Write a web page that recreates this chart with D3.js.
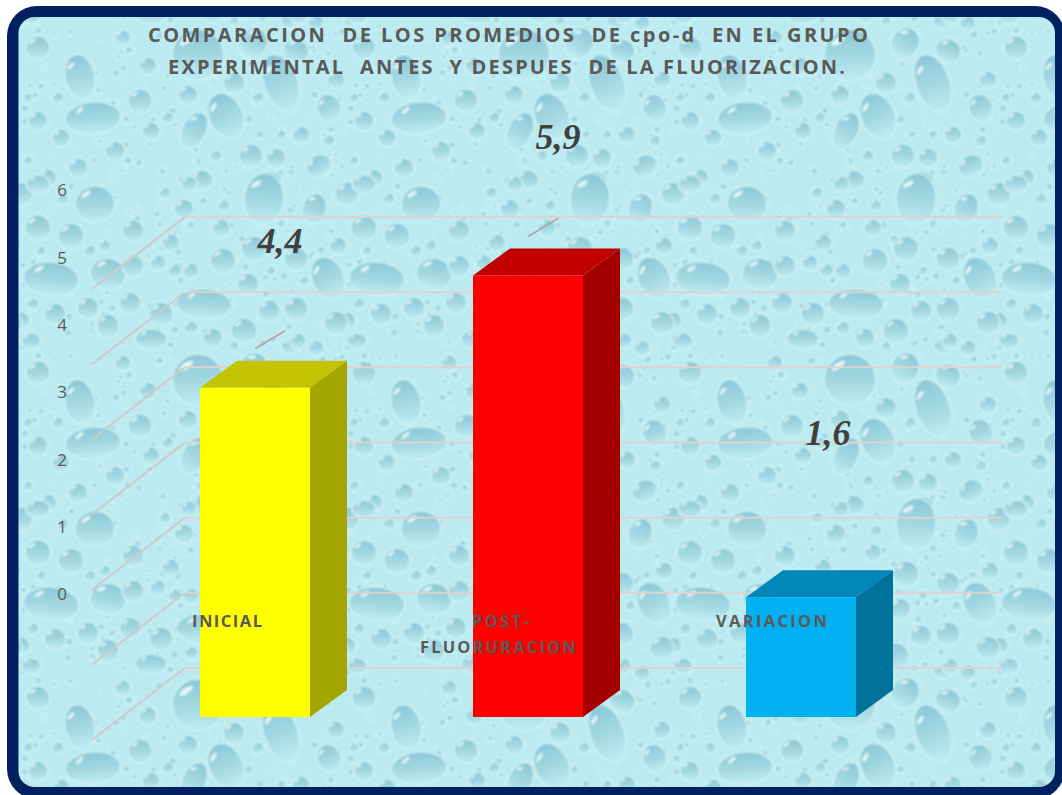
<!DOCTYPE html>
<html lang="es">
<head>
<meta charset="utf-8">
<title>Promedios de cpo-d</title>
<script src="https://cdn.jsdelivr.net/npm/d3@7"></script>
<style>
  html, body { margin: 0; padding: 0; background: #fff; overflow: hidden; }
  svg { display: block; }
  .title { font: 700 20px "Open Sans", sans-serif; fill: #595959; }
  .cat { font: 700 16.5px "Open Sans", sans-serif; fill: #595959; }
  .tick { font: 400 17px "Open Sans", sans-serif; fill: #595959; }
  .value { font: italic 700 36px "Liberation Serif", serif; fill: #404040; }
</style>
</head>
<body>
<svg id="chart" width="1062" height="795"></svg>
<script>
//data
const categories = ['INICIAL', 'POST-FLUORURACION', 'VARIACION'];
const values = [4.4, 5.9, 1.6];
const valueLabels = ['4,4', '5,9', '1,6'];
const barColors = ['#ffff00', '#ff0000', '#00b0f0'];
const yTicks = [0, 1, 2, 3, 4, 5, 6];
const titleLines = [
  'COMPARACION  DE LOS PROMEDIOS  DE cpo-d  EN EL GRUPO',
  'EXPERIMENTAL  ANTES  Y DESPUES  DE LA FLUORIZACION.'
];
// category text, one entry per written line
const catLines = [['INICIAL'], ['POST-', 'FLUORURACION'], ['VARIACION']];

// water drops of the background tile: x, y, rx, ry, rotation
const drops = [
  [75,100,28,16,-5],[122,83,12,12,0],[20,103,10,10,0],[43,120,9,9,0],[97,133,10,10,0],[60,150,10,10,0],
  [133,113,9,9,0],[150,100,6,6,0],[10,143,5,5,0],[30,160,9,9,0],[110,143,4,4,0],[40,80,6,6,0],[10,80,5,5,0],
  [62,59,15,23,-12],[105,20,8,8,0],[20,30,12,12,0],[130,48,9,9,0],
  [180,37,26,26,0],[235,25,14,16,30],[278,33,13,12,20],[263,65,17,30,-20],[216,65,11,11,0],[208,98,17,24,-25],
  [176,113,12,20,25],[311,90,12,14,-20],[318,62,9,9,0],[240,80,6,6,0],[283,117,9,9,0],[263,117,5,5,0],
  [233,138,12,12,0],[258,140,10,10,0],[301,148,13,11,-25],[311,123,6,6,0],[298,5,8,8,0],[273,3,10,8,0],
  [198,138,6,6,0],[183,162,12,10,0],[250,162,14,9,0],[170,77,10,10,0],[216,3,5,5,0],
  [77,186,20,18,0],[53,218,13,13,0],[20,210,13,13,0],[115,213,11,11,0],[3,176,12,12,0],[20,166,12,9,0],
  [45,181,6,6,0],[147,175,6,6,0],[153,225,9,9,0],[33,261,28,17,5],[90,256,18,16,10],[115,248,11,11,0],
  [140,245,8,8,0],[157,253,7,7,0],[72,233,6,6,0],[87,228,6,6,0],[23,233,5,5,0],[70,290,11,11,0],
  [37,296,11,11,0],[112,285,11,11,0],[143,296,12,12,0],[90,308,11,12,0],[133,321,16,10,0],[15,286,6,6,0],
  [3,303,9,9,0],[13,323,10,8,0],[160,286,6,6,0],
  [246,181,20,26,5],[296,191,12,16,20],[236,231,13,13,0],[205,243,13,13,0],[278,241,12,12,0],[320,228,9,9,0],
  [203,210,9,9,0],[310,260,16,22,-25],[230,266,11,11,0],[173,253,8,8,0],[186,286,28,15,3],[251,293,11,11,0],
  [278,291,12,12,0],[226,313,13,13,0],[318,305,12,12,0],[195,320,10,10,0],[173,310,7,7,0],[280,323,8,8,0],
  [253,253,5,5,0],[286,263,5,5,0],[171,166,8,8,0],[166,191,10,10,0],[206,188,6,6,0]
];

//layout
const W = 1062, H = 795;
const TILE_W = 326, TILE_H = 325;
const DEPTH_X = 37, DEPTH_Y = -27;        // bar extrusion
const WALL_X = -93, WALL_Y = 72;          // side wall of the plot box
const GRID_RIGHT = 1002, GRID_LEFT = 185;

const svg = d3.select('#chart');
const defs = svg.append('defs');

//background tile
const dropFill = defs.append('linearGradient')
  .attr('id', 'drop-fill').attr('x1', 0).attr('y1', 0).attr('x2', 0).attr('y2', 1);
dropFill.append('stop').attr('offset', '0%').attr('stop-color', '#8ac7d6');
dropFill.append('stop').attr('offset', '50%').attr('stop-color', '#a3d8e2');
dropFill.append('stop').attr('offset', '100%').attr('stop-color', '#bfecf1');

defs.append('filter').attr('id', 'soft')
  .append('feGaussianBlur').attr('stdDeviation', 0.8);

const tile = defs.append('pattern')
  .attr('id', 'water')
  .attr('patternUnits', 'userSpaceOnUse')
  .attr('x', 18).attr('y', 18)
  .attr('width', TILE_W).attr('height', TILE_H);

tile.append('rect')
  .attr('width', TILE_W).attr('height', TILE_H)
  .attr('fill', '#bbebf1');

const tileInner = tile.append('g').attr('filter', 'url(#soft)');

// small filler droplets between the large ones, fixed seed
const rnd = d3.randomLcg(0.37);
const filler = d3.range(300).map(() => {
  const r = 1.2 + rnd() * 3.2;
  return [rnd() * TILE_W, rnd() * TILE_H, r, r, 0];
});

// repeat drops that cross the tile edge so the pattern wraps
const wrapped = [];
[...filler, ...drops].forEach(d => {
  const reach = Math.max(d[2], d[3]) + 2;
  [-TILE_W, 0, TILE_W].forEach(ox => {
    [-TILE_H, 0, TILE_H].forEach(oy => {
      const x = d[0] + ox, y = d[1] + oy;
      if (x > -reach && x < TILE_W + reach && y > -reach && y < TILE_H + reach) {
        wrapped.push([x, y, d[2], d[3], d[4]]);
      }
    });
  });
});

const dropG = tileInner.selectAll('g.drop')
  .data(wrapped)
  .join('g')
  .attr('class', 'drop')
  .attr('transform', d => `translate(${d[0]},${d[1]}) rotate(${d[4]})`);

dropG.append('ellipse')
  .attr('rx', d => d[2]).attr('ry', d => d[3])
  .attr('fill', 'url(#drop-fill)')
  .attr('stroke', '#cff3f6')
  .attr('stroke-width', 1.5);

// highlights only on the bigger drops, small ones stay flat
dropG.filter(d => d[2] > 4).append('ellipse')
  .attr('cx', d => -d[2] * 0.45)
  .attr('cy', d => -d[3] * 0.55)
  .attr('rx', d => Math.min(d[2], d[3]) * 0.3)
  .attr('ry', d => Math.min(d[2], d[3]) * 0.11)
  .attr('transform', d => `rotate(-35 ${-d[2] * 0.45} ${-d[3] * 0.55})`)
  .attr('fill', '#e0f7f9');

//frame
svg.append('rect')
  .attr('x', 7).attr('y', 6)
  .attr('width', 1058).attr('height', 793)
  .attr('rx', 30)
  .attr('fill', '#002060');

svg.append('rect')
  .attr('x', 18.5).attr('y', 17)
  .attr('width', 1036.5).attr('height', 770)
  .attr('rx', 16)
  .attr('fill', 'url(#water)');

//scales
const x = d3.scaleBand()
  .domain(categories)
  .range([118.5, 937.5])
  .paddingInner(0.597)
  .paddingOuter(0.2985);

// snap bars to whole pixels so the faces stay crisp
const barX = c => Math.round(x(c));
const barW = Math.round(x.bandwidth());

const yFront = d3.scaleLinear().domain([0, 6]).range([717, 268]);
const yWall = d3.scaleLinear().domain([0, 6]).range([668, 217]);
const yTick = d3.scaleLinear().domain([0, 6]).range([594, 190]);

//grid
const grid = svg.append('g').attr('fill', 'none').attr('stroke-width', 2);

grid.selectAll('path.back')
  .data(yTicks)
  .join('path')
  .attr('class', 'back')
  .attr('stroke', '#dcd3d1')
  .attr('d', d => `M${GRID_LEFT},${yWall(d)}H${GRID_RIGHT}`);

grid.selectAll('path.side')
  .data(yTicks)
  .join('path')
  .attr('class', 'side')
  .attr('stroke', '#cbcaca')
  .attr('d', d => `M${GRID_LEFT},${yWall(d)}l${WALL_X},${WALL_Y}`);

//value axis, labels only
const yAxis = d3.axisLeft(yTick)
  .tickValues(yTicks)
  .tickFormat(d3.format('d'))
  .tickSize(0)
  .tickPadding(0);
const axisG = svg.append('g')
  .attr('transform', 'translate(67,0)')
  .call(yAxis);
axisG.select('.domain').remove();
axisG.selectAll('text')
  .attr('class', 'tick')
  .attr('fill', null)
  .attr('dy', '0.34em');

//bars
const bars = svg.selectAll('g.bar')
  .data(categories.map((c, i) => ({ cat: c, value: values[i], color: barColors[i] })))
  .join('g')
  .attr('class', 'bar');

bars.append('path')   // top face
  .attr('fill', d => d3.rgb(d.color).darker(0.75))
  .attr('d', d => {
    const left = barX(d.cat), top = yFront(d.value);
    return `M${left},${top}l${DEPTH_X},${DEPTH_Y}h${barW}l${-DEPTH_X},${-DEPTH_Y}Z`;
  });

bars.append('path')   // side face
  .attr('fill', d => d3.rgb(d.color).darker(1.22))
  .attr('d', d => {
    const right = barX(d.cat) + barW, top = yFront(d.value), base = yFront(0);
    return `M${right},${top}l${DEPTH_X},${DEPTH_Y}V${base + DEPTH_Y}L${right},${base}Z`;
  });

bars.append('rect')   // front face
  .attr('x', d => barX(d.cat))
  .attr('y', d => yFront(d.value))
  .attr('width', barW)
  .attr('height', d => yFront(0) - yFront(d.value))
  .attr('fill', d => d.color);

//leader lines for the moved labels
const leaderCats = categories.slice(0, 2);
svg.selectAll('path.leader')
  .data(leaderCats)
  .join('path')
  .attr('class', 'leader')
  .attr('fill', 'none')
  .attr('stroke', '#ada5a3')
  .attr('stroke-width', 1.5)
  .attr('d', (c, i) => `M${barX(c) + barW / 2},${yFront(values[i]) - 39}l30,-18`);

//value labels, placed by hand off the bars
const labelShift = [[25, -135], [30, -126], [27, -152]];
svg.selectAll('text.value')
  .data(valueLabels)
  .join('text')
  .attr('class', 'value')
  .attr('text-anchor', 'middle')
  .attr('x', (d, i) => barX(categories[i]) + barW / 2 + labelShift[i][0])
  .attr('y', (d, i) => yFront(values[i]) + labelShift[i][1])
  .text(d => d);

//category labels
const catWidths = [[70], [57, 156], [111]];
const catCenters = [227, 498, 771.5];
catLines.forEach((lines, i) => {
  lines.forEach((line, j) => {
    svg.append('text')
      .attr('class', 'cat')
      .attr('text-anchor', 'middle')
      .attr('x', catCenters[i] + (lines.length > 1 && j === 0 ? 2.5 : 0))
      .attr('y', 627 + j * 26)
      .attr('textLength', catWidths[i][j])
      .attr('lengthAdjust', 'spacing')
      .text(line);
  });
});

//title
const titleWidths = [720, 677];
svg.selectAll('text.title')
  .data(titleLines)
  .join('text')
  .attr('class', 'title')
  .attr('text-anchor', 'middle')
  .attr('xml:space', 'preserve')
  .style('white-space', 'pre')
  .attr('x', (d, i) => (i === 0 ? 508 : 506.5))
  .attr('y', (d, i) => 42 + i * 32)
  .attr('textLength', (d, i) => titleWidths[i])
  .attr('lengthAdjust', 'spacing')
  .text(d => d);
</script>
</body>
</html>
